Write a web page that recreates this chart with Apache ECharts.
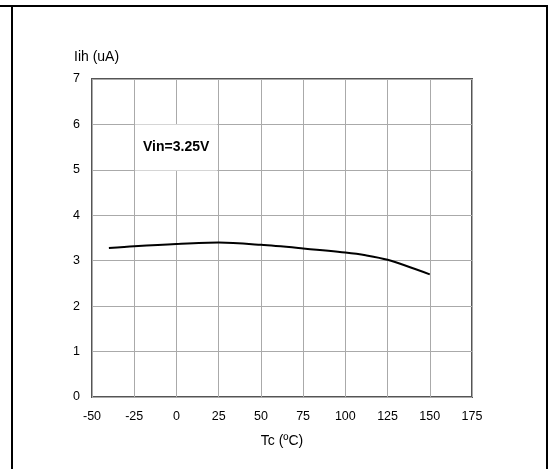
<!DOCTYPE html>
<html>
<head>
<meta charset="utf-8">
<script src="https://cdn.jsdelivr.net/npm/echarts@6/dist/echarts.min.js"></script>
<style>
    html, body { margin: 0; padding: 0; background: #fff; }
    #iih-chart-container { width: 550px; height: 469px; }
</style>
</head>
<body>
<div id="iih-chart-container"></div>
<script>
// Iih vs case temperature, Vin = 3.25V
var tempC = [-40, -25, 0, 25, 50, 75, 100, 112, 125, 150];
var iihUA = [3.28, 3.32, 3.37, 3.40, 3.35, 3.27, 3.18, 3.12, 3.02, 2.70];
var xTicks = [-50, -25, 0, 25, 50, 75, 100, 125, 150, 175];
var yTicks = [0, 1, 2, 3, 4, 5, 6, 7];
var noteText = 'Vin=3.25V';
var yName = 'Iih (uA)';

var IihChart = function () {
    var font = '"Liberation Sans", Arial, sans-serif';

    var _drawChart = function () {
        var dom = document.getElementById('iih-chart-container');
        var chart = echarts.init(dom, null, { renderer: 'canvas' });

        var points = [];
        for (var i = 0; i < tempC.length; i++) {
            points.push([tempC[i], iihUA[i]]);
        }

        var option = {
            animation: false,
            backgroundColor: '#fff',
            textStyle: { fontFamily: font },
            title: {
                text: noteText,
                left: 135,
                top: 125,
                backgroundColor: '#fff',
                padding: [16, 8, 16, 8],
                textStyle: {
                    fontFamily: font,
                    fontSize: 14,
                    fontWeight: 'bold',
                    color: '#000',
                    lineHeight: 13
                }
            },
            grid: {
                left: 92,
                top: 79,
                right: 78,
                bottom: 72,
                show: true,
                borderColor: '#555',
                borderWidth: 2,
                backgroundColor: 'transparent'
            },
            xAxis: {
                type: 'value',
                min: xTicks[0],
                max: xTicks[xTicks.length - 1],
                interval: 25,
                name: 'Tc (ºC)',
                nameLocation: 'middle',
                nameGap: 37,
                nameTextStyle: { fontFamily: font, fontSize: 14, color: '#000' },
                axisLine: { show: false },
                axisTick: { show: false },
                axisLabel: { margin: 13, fontFamily: font, fontSize: 12.5, color: '#000' },
                splitLine: { show: true, lineStyle: { color: '#aaa', width: 1 } }
            },
            yAxis: {
                type: 'value',
                min: yTicks[0],
                max: yTicks[yTicks.length - 1],
                interval: 1,
                axisLine: { show: false },
                axisTick: { show: false },
                axisLabel: { margin: 12, fontFamily: font, fontSize: 12.5, color: '#000' },
                splitLine: { show: true, lineStyle: { color: '#aaa', width: 1 } }
            },
            graphic: [
                { type: 'line', shape: { x1: 0, y1: 6, x2: 548, y2: 6 }, style: { stroke: '#000', lineWidth: 2 } },
                { type: 'line', shape: { x1: 12, y1: 6, x2: 12, y2: 469 }, style: { stroke: '#000', lineWidth: 2 } },
                { type: 'line', shape: { x1: 547, y1: 6, x2: 547, y2: 469 }, style: { stroke: '#000', lineWidth: 2 } },
                // y axis name, placed over the top-left of the plot
                {
                    type: 'text',
                    x: 74,
                    y: 57,
                    style: {
                        text: yName,
                        font: '14px ' + font,
                        fill: '#000',
                        verticalAlign: 'middle'
                    }
                }
            ],
            series: [
                {
                    type: 'line',
                    data: points,
                    smooth: 0.3,
                    showSymbol: false,
                    lineStyle: { color: '#000', width: 2 }
                }
            ]
        };

        chart.setOption(option);
        window.addEventListener('resize', chart.resize);
    };

    return {
        init: function () {
            _drawChart();
        }
    };
}();

document.addEventListener('DOMContentLoaded', function () {
    IihChart.init();
});
</script>
</body>
</html>
